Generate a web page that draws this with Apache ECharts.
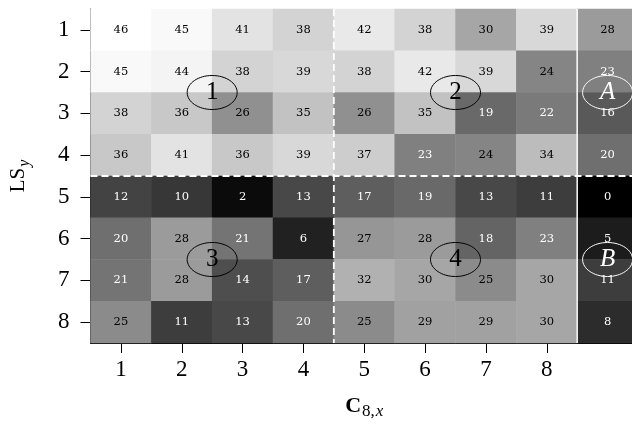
<!DOCTYPE html>
<html><head><meta charset="utf-8">
<script src="https://cdn.jsdelivr.net/npm/echarts@6/dist/echarts.min.js"></script>
<style>html,body{margin:0;padding:0;background:#fff;overflow:hidden}#c{width:638px;height:425px}</style>
</head><body><div id="c"></div>
<script>
const xCats = ['1','2','3','4','5','6','7','8',''];
const yCats = ['1','2','3','4','5','6','7','8'];
const row1 = [46,45,41,38,42,38,30,39,28];
const row2 = [45,44,38,39,38,42,39,24,23];
const row3 = [38,36,26,35,26,35,19,22,16];
const row4 = [36,41,36,39,37,23,24,34,20];
const row5 = [12,10,2,13,17,19,13,11,0];
const row6 = [20,28,21,6,27,28,18,23,5];
const row7 = [21,28,14,17,32,30,25,30,11];
const row8 = [25,11,13,20,25,29,29,30,8];
const rows = [row1,row2,row3,row4,row5,row6,row7,row8];
// ellipse markers: label and centre in data units
const markerLabels = ['1','2','3','4','A','B'];
const markerX = [2.5, 6.5, 2.5, 6.5, 9, 9];
const markerY = [2.5, 2.5, 6.5, 6.5, 2.5, 6.5];
const dashedX = [4.5];
const dashedY = [4.5];
const solidX = [8.5];

const serif = 'Liberation Serif';
const heatData = [];
rows.forEach((r, yi) => r.forEach((v, xi) => {
  heatData.push({value: [xi, yi, v], label: {color: v < 24 ? '#ffffff' : '#000000'}});
}));

const chart = echarts.init(document.getElementById('c'));
const lineSeries = [];
dashedX.forEach(x => lineSeries.push({type:'line', xAxisIndex:1, yAxisIndex:1, data:[[x,0.5],[x,8.5]], symbol:'none', silent:true, z:5,
  lineStyle:{color:'#fff', width:1.8, type:[7,4]}}));
dashedY.forEach(y => lineSeries.push({type:'line', xAxisIndex:1, yAxisIndex:1, data:[[0.5,y],[9.5,y]], symbol:'none', silent:true, z:5,
  lineStyle:{color:'#fff', width:1.8, type:[7,4]}}));
solidX.forEach(x => lineSeries.push({type:'line', xAxisIndex:1, yAxisIndex:1, data:[[x,0.5],[x,8.5]], symbol:'none', silent:true, z:5,
  lineStyle:{color:'#fff', width:1.5}}));

const markerData = markerLabels.map((l, i) => [markerX[i], markerY[i], i]);

chart.setOption({
  animation: false,
  grid: {left: 89, top: 9, right: 0, height: 335, containLabel: false},
  xAxis: [{
    type: 'category', data: xCats, position: 'bottom',
    axisLine: {show: true, lineStyle: {color: '#000', width: 1}},
    axisTick: {show: true, alignWithLabel: true, length: 10, lineStyle: {color: '#000'}, interval: (i) => i < 8},
    axisLabel: {fontFamily: serif, fontSize: 23, color: '#000', margin: 15, interval: 0},
    splitLine: {show: false},
    name: '{b|C}{s|8,}{si|x}', nameLocation: 'middle', nameGap: 50,
    nameTextStyle: {rich: {
      b: {fontFamily: serif, fontSize: 22, fontWeight: 'bold', color: '#000'},
      s: {fontFamily: serif, fontSize: 17, color: '#000', verticalAlign: 'bottom', padding: [10,0,0,1]},
      si: {fontFamily: serif, fontSize: 17, fontStyle: 'italic', color: '#000', verticalAlign: 'bottom', padding: [10,0,0,1]}
    }}
  }, {
    type: 'value', min: 0.5, max: 9.5, show: false
  }],
  yAxis: [{
    type: 'category', data: yCats, inverse: true,
    axisLine: {show: true, lineStyle: {color: '#000', width: 1}},
    axisTick: {show: true, alignWithLabel: true, length: 10, lineStyle: {color: '#000'}},
    axisLabel: {fontFamily: serif, fontSize: 23, color: '#000', margin: 21},
    splitLine: {show: false},
    name: '{n|LS}{si|y}', nameLocation: 'middle', nameGap: 58, nameRotate: 90,
    nameTextStyle: {rich: {
      n: {fontFamily: serif, fontSize: 21, color: '#000'},
      si: {fontFamily: serif, fontSize: 16, fontStyle: 'italic', color: '#000', verticalAlign: 'bottom', padding: [12,0,0,1]}
    }}
  }, {
    type: 'value', min: 0.5, max: 8.5, inverse: true, show: false
  }],
  visualMap: {show: false, min: 0, max: 46, dimension: 2, seriesIndex: 0, inRange: {color: ['#000000', '#ffffff']}},
  series: [{
    type: 'heatmap', data: heatData,
    label: {show: true, fontFamily: 'DejaVu Serif', fontSize: 11.5},
    itemStyle: {borderWidth: 0}
  }].concat(lineSeries).concat([{
    type: 'custom', xAxisIndex: 1, yAxisIndex: 1, data: markerData, z: 10, silent: true,
    renderItem: function (params, api) {
      const p = api.coord([api.value(0), api.value(1)]);
      const idx = api.value(2);
      const white = idx >= 4;
      const col = white ? '#ffffff' : '#000000';
      return {type: 'group', children: [
        {type: 'ellipse', shape: {cx: p[0], cy: p[1], rx: 25, ry: 17}, style: {fill: null, stroke: col, lineWidth: 1}},
        {type: 'text', x: p[0], y: p[1], style: {text: markerLabels[idx], fill: col, fontFamily: serif, fontSize: 25,
          fontStyle: white ? 'italic' : 'normal', align: 'center', verticalAlign: 'middle'}}
      ]};
    }
  }])
});
</script></body></html>
